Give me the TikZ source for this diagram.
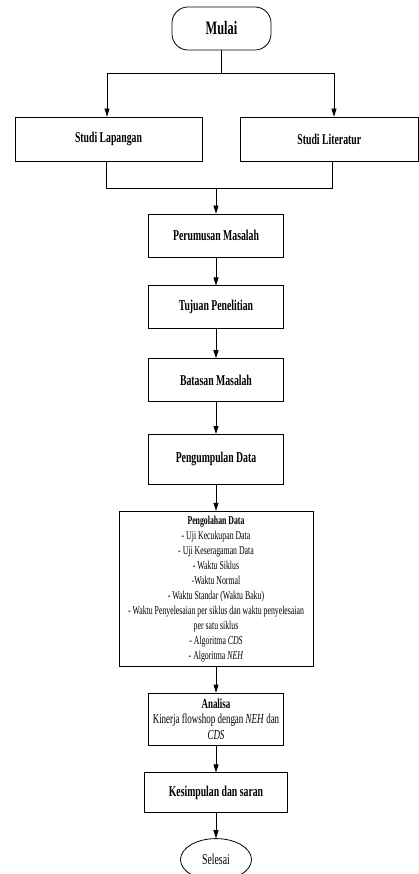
\documentclass[tikz,border=0pt]{standalone}
\usepackage{fontspec}
\setmainfont{Liberation Serif}[FakeStretch=0.65]
\usetikzlibrary{positioning,shapes.geometric,arrows.meta}

\tikzset{
  box/.style={draw, line width=0.8pt, minimum width=135pt, minimum height=43pt,
    inner sep=2pt, align=center, font=\fontsize{15}{17}\selectfont\bfseries},
  arr/.style={-{Triangle[length=8pt,width=5pt]}, line width=0.8pt},
  ln/.style={line width=0.8pt},
}

\begin{document}
\begin{tikzpicture}[x=1pt, y=-1pt]
    \useasboundingbox (0,0) rectangle (419,874);

    \node[box, rounded corners=16pt, minimum width=99pt,
        font=\fontsize{19}{22}\selectfont\bfseries] (mulai) at (221.5,28.5) {Mulai};
    \node[box, minimum width=187pt, minimum height=44pt] (lapangan) at (108.5,139) {Studi Lapangan};
    \node[box, minimum width=178pt, minimum height=44pt] (literatur) at (329.3,139) {Studi Literatur};

    % Cabang ke dua studi
    \coordinate (pisahL) at (107,73);
    \coordinate (pisahR) at (334,73);
    \draw[ln] (mulai.south) -- (mulai.south |- pisahL);
    \draw[ln] (pisahL) -- (pisahR);
    \draw[arr] (pisahL) -- (pisahL |- lapangan.north);
    \draw[arr] (pisahR) -- (pisahR |- literatur.north);

    % Alur utama
    \node[box] (rumus) at (216,235.5) {Perumusan Masalah};
    \node[box, below=28pt of rumus] (tujuan) {Tujuan Penelitian};
    \node[box, below=29pt of tujuan] (batasan) {Batasan Masalah};
    \node[box, below=32pt of batasan, minimum height=50pt] (kumpul) {Pengumpulan Data};
    \node[box, below=26pt of kumpul, minimum width=194pt, minimum height=155pt,
        font=\fontsize{12}{15}\selectfont] (olah)
        {\textbf{Pengolahan Data}\\ - Uji Kecukupan Data\\ - Uji Keseragaman Data\\
         - Waktu Siklus\\ -Waktu Normal\\ - Waktu Standar (Waktu Baku)\\
         - Waktu Penyelesaian per siklus dan waktu penyelesaian\\ per satu siklus\\
         - Algoritma \textit{CDS}\\ - Algoritma \textit{NEH}};
    \node[box, below=26pt of olah, minimum height=52pt,
        font=\fontsize{13.8}{15.5}\selectfont] (analisa)
        {\textbf{Analisa}\\ Kinerja flowshop dengan \textit{NEH} dan\\ \textit{CDS}};
    \node[box, below=27pt of analisa, minimum width=143pt, minimum height=40pt] (simpul) {Kesimpulan dan saran};
    \node[draw, ellipse, line width=0.8pt, inner sep=0pt, minimum width=71pt, minimum height=42pt,
        below=25pt of simpul, font=\fontsize{15}{17}\selectfont] (selesai) {Selesai};

    % Gabungan dua studi
    \coordinate (gabungL) at (106,188);
    \coordinate (gabungR) at (332,188);
    \coordinate (gabung) at (216,188);
    \draw[ln] (gabungL |- lapangan.south) -- (gabungL) -- (gabungR) -- (gabungR |- literatur.south);
    \draw[arr] (gabung) -- (rumus.north);

    \draw[arr] (rumus) -- (tujuan);
    \draw[arr] (tujuan) -- (batasan);
    \draw[arr] (batasan) -- (kumpul);
    \draw[arr] (kumpul) -- (olah);
    \draw[arr] (olah) -- (analisa);
    \draw[arr] (analisa) -- (simpul);
    \draw[arr] (simpul) -- (selesai);

\end{tikzpicture}
\end{document}
